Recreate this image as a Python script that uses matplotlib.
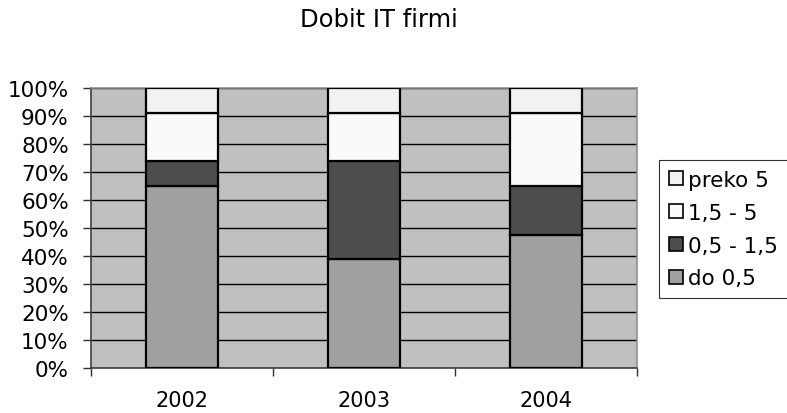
import numpy as np
import matplotlib as mpl
import matplotlib.pyplot as plt
from matplotlib.patches import Patch

mpl.rcParams['font.family'] = 'DejaVu Sans'
mpl.rcParams['font.size'] = 15

years = ['2002', '2003', '2004']
series = ['do 0,5', '0,5 - 1,5', '1,5 - 5', 'preko 5']
do_05 = [65, 39, 47.5]
od_05_15 = [9, 35, 17.5]
od_15_5 = [17, 17, 26]
preko_5 = [9, 9, 9]

colors = ['#a0a0a0', '#4d4d4d', '#fafafa', '#f2f2f2']

fig = plt.figure(figsize=(7.87, 4.14), dpi=100)
ax = fig.add_axes([91 / 787, 45 / 414, 546 / 787, 280 / 414])
ax.set_facecolor('#c0c0c0')

x = np.arange(len(years))
bottom = np.zeros(len(years))
for vals, col in zip([do_05, od_05_15, od_15_5, preko_5], colors):
    ax.bar(x, vals, width=0.4, bottom=bottom, color=col, edgecolor='black',
           linewidth=1.6, zorder=3)
    bottom += np.array(vals)

ax.set_xlim(-0.5, 2.5)
ax.set_ylim(0, 100)
ax.set_yticks(np.arange(0, 101, 10))
ax.set_yticklabels([f'{v}%' for v in range(0, 101, 10)])
ax.yaxis.grid(True, color='black', linewidth=1.0, zorder=1)
ax.set_axisbelow(True)

# category labels centred under bars, tick marks between categories
ax.set_xticks([-0.5, 0.5, 1.5, 2.5])
ax.set_xticklabels([])
ax.set_xticks(x, minor=True)
ax.set_xticklabels(years, minor=True)
ax.tick_params(axis='x', which='minor', length=0, pad=16)
ax.tick_params(axis='x', which='major', length=6, width=1, color='#303030')
ax.tick_params(axis='y', length=6, width=1, pad=10, color='#303030')
ax.tick_params(axis='y', labelsize=15.5)

for side in ['left', 'bottom']:
    ax.spines[side].set_color('#404040')
    ax.spines[side].set_linewidth(1.2)
for side in ['top', 'right']:
    ax.spines[side].set_color('#909090')
    ax.spines[side].set_linewidth(1.2)

fig.text(379 / 787, 1 - 27 / 414, 'Dobit IT firmi', ha='center', va='baseline', fontsize=17.5)

handles = [Patch(facecolor=c, edgecolor='black', linewidth=1.2) for c in colors]
leg = fig.legend(handles[::-1], series[::-1], loc='upper left',
                 bbox_to_anchor=(659 / 787, 1 - 161 / 414), frameon=True,
                 fancybox=False, edgecolor='black', handlelength=0.65,
                 handleheight=0.65, handletextpad=0.25, labelspacing=0.6,
                 borderpad=0.45, borderaxespad=0, fontsize=15.5)
leg.get_frame().set_linewidth(0.8)

fig.savefig('out.png', dpi=100)
